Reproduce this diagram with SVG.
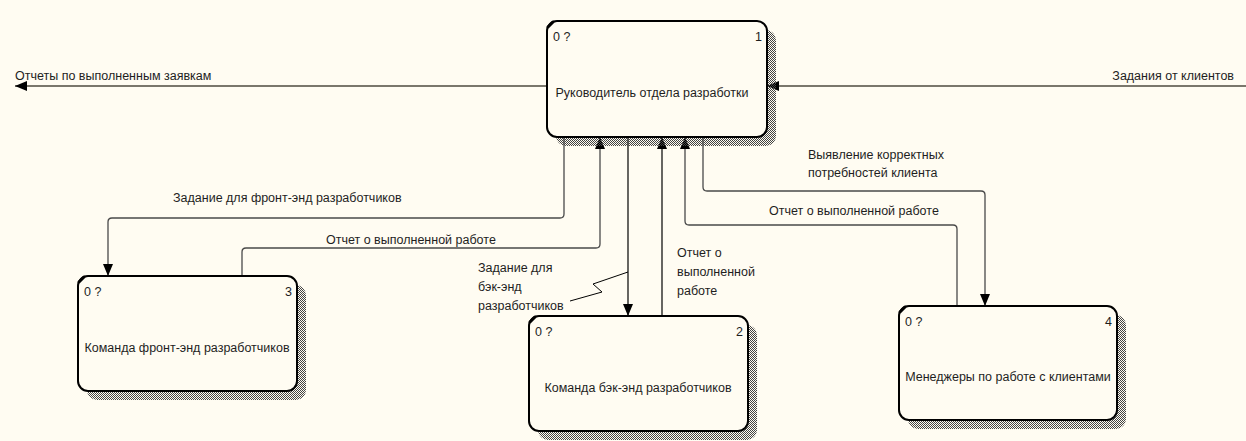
<svg xmlns="http://www.w3.org/2000/svg" width="1246" height="441" viewBox="0 0 1246 441">
  <style>
    text { font-family: "Liberation Sans", Arial, sans-serif; font-size: 12.5px; fill: #1e1e1e; }
    .box { fill: #fffcf2; stroke: #000; stroke-width: 2; }
    .shadow { fill: url(#hatch); }
    .corner { stroke: #000; stroke-width: 3; stroke-linecap: round; }
    .mid { text-anchor: middle; }
    .end { text-anchor: end; }
    .arc { fill: none; stroke: #4a4a4a; stroke-width: 1.3; }
    .straight { fill: none; stroke: #000; stroke-width: 1.2; }
    .ext { fill: none; stroke: #7a776c; stroke-width: 1.8; }
    .lead { fill: none; stroke: #000; stroke-width: 1; }
  </style>
  <defs>
    <pattern id="hatch" width="2" height="2" patternUnits="userSpaceOnUse">
      <rect x="0" y="0" width="1" height="1" fill="#444"/>
      <rect x="1" y="1" width="1" height="1" fill="#444"/>
    </pattern>
    <marker id="arrow" markerUnits="userSpaceOnUse" markerWidth="12" markerHeight="10" refX="12" refY="5" orient="auto">
      <path d="M0,0 L12,5 L0,10 z" fill="#000"/>
    </marker>
  </defs>

  <rect width="1246" height="441" fill="#fffcf2"/>

  <!-- connectors -->
  <g id="connectors">
    <path class="ext" d="M547,86 H15" marker-end="url(#arrow)"/>
    <path class="ext" d="M1246,86 H767" marker-end="url(#arrow)"/>
    <path class="arc" d="M564,137 V214 Q564,218 560,218 H112 Q108,218 108,222 V276" marker-end="url(#arrow)"/>
    <path class="arc" d="M242,276 V252 Q242,248 246,248 H596 Q600,248 600,244 V137" marker-end="url(#arrow)"/>
    <path class="straight" d="M628,137 V316" marker-end="url(#arrow)"/>
    <path class="straight" d="M662,316 V137" marker-end="url(#arrow)"/>
    <path class="arc" d="M957,306 V229 Q957,225 953,225 H689 Q685,225 685,221 V137" marker-end="url(#arrow)"/>
    <path class="arc" d="M703,137 V187 Q703,191 707,191 H981 Q985,191 985,195 V306" marker-end="url(#arrow)"/>
    <path class="lead" d="M628,272 L593,284 L602,292 L570,301"/>

    <text x="15" y="80">Отчеты по выполненным заявкам</text>
    <text class="end" x="1234" y="80">Задания от клиентов</text>
    <text x="173" y="202">Задание для фронт-энд разработчиков</text>
    <text x="326" y="244">Отчет о выполненной работе</text>
    <text x="478" y="272">Задание для</text>
    <text x="478" y="291">бэк-энд</text>
    <text x="478" y="310">разработчиков</text>
    <text x="677" y="257">Отчет о</text>
    <text x="677" y="276">выполненной</text>
    <text x="677" y="295">работе</text>
    <text x="808" y="159">Выявление корректных</text>
    <text x="808" y="177">потребностей клиента</text>
    <text x="769" y="215">Отчет о выполненной работе</text>
  </g>

  <!-- activity 1 -->
  <g id="node-1">
    <rect class="shadow" x="556" y="30" width="220" height="116" rx="10"/>
    <rect class="box" x="547" y="21" width="220" height="116" rx="10"/>
    <path class="corner" d="M548,27 L553,22"/>
    <text x="553" y="41">0 ?</text>
    <text class="end" x="762" y="41">1</text>
    <text class="mid" x="652" y="97">Руководитель отдела разработки</text>
  </g>

  <!-- activity 3 -->
  <g id="node-3">
    <rect class="shadow" x="87" y="285" width="219" height="115" rx="10"/>
    <rect class="box" x="78" y="276" width="219" height="115" rx="10"/>
    <path class="corner" d="M79,282 L84,277"/>
    <text x="84" y="296">0 ?</text>
    <text class="end" x="292" y="296">3</text>
    <text class="mid" x="187" y="352">Команда фронт-энд разработчиков</text>
  </g>

  <!-- activity 2 -->
  <g id="node-2">
    <rect class="shadow" x="538" y="325" width="219" height="115" rx="10"/>
    <rect class="box" x="529" y="316" width="219" height="115" rx="10"/>
    <path class="corner" d="M530,322 L535,317"/>
    <text x="535" y="336">0 ?</text>
    <text class="end" x="743" y="336">2</text>
    <text class="mid" x="638" y="392">Команда бэк-энд разработчиков</text>
  </g>

  <!-- activity 4 -->
  <g id="node-4">
    <rect class="shadow" x="908" y="315" width="218" height="114" rx="10"/>
    <rect class="box" x="899" y="306" width="218" height="114" rx="10"/>
    <path class="corner" d="M900,312 L905,307"/>
    <text x="905" y="326">0 ?</text>
    <text class="end" x="1112" y="326">4</text>
    <text class="mid" x="1008" y="381">Менеджеры по работе с клиентами</text>
  </g>
</svg>
